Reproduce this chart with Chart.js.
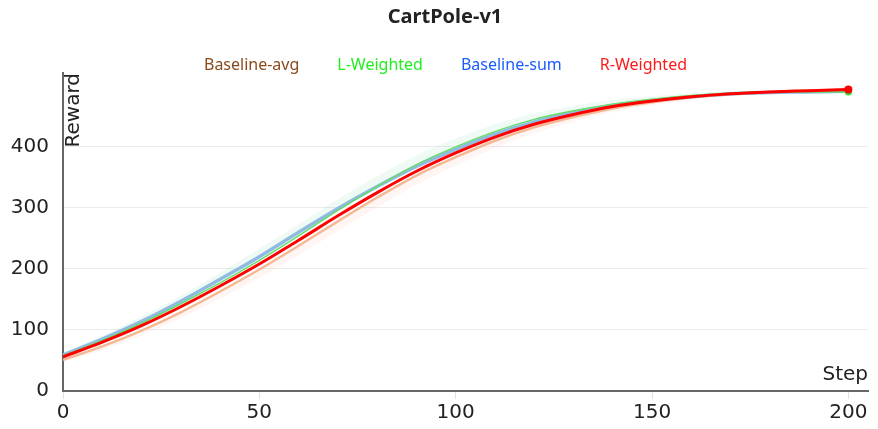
<!DOCTYPE html>
<html>
<head>
<meta charset="utf-8">
<script src="https://cdn.jsdelivr.net/npm/chart.js@4.4.1/dist/chart.umd.min.js"></script>
<style>
    html, body { margin: 0; padding: 0; background: #fff; }
    #wrap { width: 878px; height: 429px; }
</style>
</head>
<body>
<div id="wrap"><canvas id="cartpole"></canvas></div>
<script>
// steps (x)
const steps = [0, 10, 20, 30, 40, 50, 60, 70, 80, 90, 100, 110, 120, 130, 140, 150, 160, 170, 180, 190, 200];

// reward curves
const rWeighted   = [56, 80, 107, 138, 172, 208, 247, 287, 325, 360, 390, 416, 437, 453, 466, 475, 482, 487, 490, 492, 494];
const lWeighted   = [58, 83, 111, 143, 177, 214, 254, 296, 335, 371, 400, 425, 445, 459, 470, 478, 484, 488, 490, 490, 490];
const baselineSum = [59, 85, 114, 147, 183, 220, 260, 299, 335, 368, 396, 421, 441, 456, 468, 476, 482, 487, 489, 490, 491];
const baselineAvg = [51, 73, 99, 129, 163, 199, 238, 278, 317, 353, 383, 410, 432, 449, 463, 473, 481, 486, 490, 492, 494];

// faint spread bands
const bandUpper = [63, 91, 122, 156, 194, 233, 273, 314, 352, 386, 414, 437, 455, 467, 477, 483, 488, 491, 493, 494, 494];
const bandLower = [47, 67, 91, 119, 151, 185, 223, 262, 301, 338, 369, 398, 422, 441, 457, 468, 477, 483, 487, 489, 491];

const yTicks = [0, 100, 200, 300, 400];
const xTicks = [0, 50, 100, 150, 200];

const chartTitle = 'CartPole-v1';
const legendOrder = ['Baseline-avg', 'L-Weighted', 'Baseline-sum', 'R-Weighted'];
const legendColors = ['#8b4a1c', '#22ee22', '#1a5cff', '#ff1a1a'];

function pts(arr) {
    return steps.map((s, i) => ({ x: s, y: arr[i] }));
}

function lastDot(r) {
    return ctx => (ctx.dataIndex === steps.length - 1 ? r : 0);
}

// title, text-only legend and the axis names inside the plot
const extras = {
    id: 'extras',
    afterDraw(chart) {
        const { ctx, chartArea } = chart;
        ctx.save();
        ctx.fillStyle = '#222';
        ctx.textAlign = 'center';
        ctx.textBaseline = 'middle';
        ctx.font = 'bold 20px "Noto Sans"';
        ctx.fillText(chartTitle, 445, 17);

        ctx.font = '20px "DejaVu Sans"';
        ctx.textAlign = 'right';
        ctx.textBaseline = 'bottom';
        ctx.fillText('Step', chartArea.right, chartArea.bottom - 6);
        ctx.save();
        ctx.translate(chartArea.left + 21, chartArea.top);
        ctx.rotate(-Math.PI / 2);
        ctx.fillText('Reward', 0, 0);
        ctx.restore();

        // legend
        ctx.font = '16px "Noto Sans"';
        ctx.textAlign = 'left';
        ctx.textBaseline = 'middle';
        const gap = 38;
        const widths = legendOrder.map(t => ctx.measureText(t).width);
        const total = widths.reduce((a, b) => a + b, 0) + gap * (legendOrder.length - 1);
        let x = 445.5 - total / 2;
        legendOrder.forEach((t, i) => {
            ctx.fillStyle = legendColors[i];
            ctx.fillText(t, x, 65);
            x += widths[i] + gap;
        });
        ctx.restore();
    }
};

new Chart(document.getElementById('cartpole'), {
    type: 'line',
    data: {
        datasets: [{
            label: 'R-Weighted',
            data: pts(rWeighted),
            borderColor: '#ff0000',
            backgroundColor: '#ff0000',
            borderWidth: 3,
            pointRadius: lastDot(4),
            pointBorderWidth: 0
        }, {
            label: 'L-Weighted',
            data: pts(lWeighted),
            borderColor: '#66dd66',
            backgroundColor: '#33dd33',
            borderWidth: 1.5,
            pointRadius: lastDot(3.5),
            pointBorderWidth: 0
        }, {
            label: 'Baseline-sum',
            data: pts(baselineSum),
            borderColor: '#8fbbe3',
            backgroundColor: '#8fbbe3',
            borderWidth: 3.5,
            pointRadius: 0
        }, {
            label: 'Baseline-avg',
            data: pts(baselineAvg),
            borderColor: '#f5b894',
            backgroundColor: '#f5b894',
            borderWidth: 2.5,
            pointRadius: 0
        }, {
            label: 'band-up',
            data: pts(bandUpper),
            borderWidth: 0,
            borderColor: 'rgba(0,0,0,0)',
            pointRadius: 0,
            fill: 2,
            backgroundColor: 'rgba(120, 215, 170, 0.12)'
        }, {
            label: 'band-low',
            data: pts(bandLower),
            borderWidth: 0,
            borderColor: 'rgba(0,0,0,0)',
            pointRadius: 0,
            fill: 3,
            backgroundColor: 'rgba(255, 150, 130, 0.09)'
        }]
    },
    options: {
        responsive: true,
        maintainAspectRatio: false,
        animation: false,
        cubicInterpolationMode: 'monotone',
        layout: { padding: { left: 0, right: 10, top: 73, bottom: 2 } },
        plugins: {
            tooltip: { enabled: false },
            legend: { display: false },
            title: { display: false }
        },
        scales: {
            x: {
                type: 'linear',
                min: 0,
                max: 205,
                afterBuildTicks: scale => {
                    scale.ticks = xTicks.map(v => ({ value: v }));
                },
                ticks: {
                    color: '#222',
                    font: { family: '"DejaVu Sans"', size: 20 },
                    padding: 2
                },
                grid: {
                    drawOnChartArea: false,
                    color: '#e2e2e2',
                    tickLength: 8
                },
                border: { color: '#666', width: 2 }
            },
            y: {
                min: 0,
                max: 521,
                afterBuildTicks: scale => {
                    scale.ticks = yTicks.map(v => ({ value: v }));
                },
                afterFit: scale => {
                    scale.width = 63;
                    scale.paddingTop = 0;
                },
                ticks: {
                    color: '#222',
                    font: { family: '"DejaVu Sans"', size: 20 },
                    padding: 14
                },
                grid: {
                    color: ctx => (ctx.tick && ctx.tick.value === 0 ? 'rgba(0,0,0,0)' : '#ececec'),
                    tickLength: 0
                },
                border: { color: '#666', width: 2 }
            }
        }
    },
    plugins: [extras]
});
</script>
</body>
</html>
